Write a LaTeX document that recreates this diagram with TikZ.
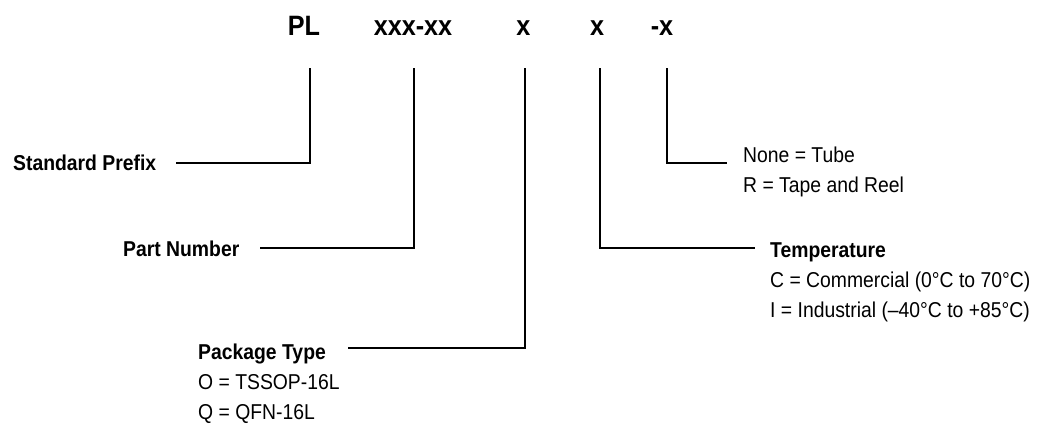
\documentclass[tikz,border=0pt]{standalone}
\usepackage{fontspec}
\setmainfont[FakeStretch=0.9]{Liberation Sans}
\begin{document}
\begin{tikzpicture}[x=1pt,y=-1pt,
  hdr/.style={inner sep=0pt,anchor=base,font=\fontsize{28}{30}\selectfont\bfseries},
  lbl/.style={inner sep=0pt,anchor=base west,font=\fontsize{21.5}{30}\selectfont\bfseries},
  txt/.style={inner sep=0pt,anchor=base west,font=\fontsize{21.5}{30}\selectfont},
  conn/.style={line width=2pt,line join=miter}]
\useasboundingbox (0,0) rectangle (1041,429);
% headers
\node[hdr] (h1) at (304,35) {PL};
\node[hdr] (h2) at (413,35) {xxx-xx};
\node[hdr] (h3) at (523.5,35) {x};
\node[hdr] (h4) at (597,35) {x};
\node[hdr] (h5) at (662,35) {-x};
% labels
\node[lbl] (sp) at (13,170) {Standard Prefix};
\node[lbl] (pn) at (123,256) {Part Number};
\node[lbl] (pt) at (198,359) {Package Type};
\node[txt] (pt1) at (198,389) {O = TSSOP-16L};
\node[txt] (pt2) at (198,419) {Q = QFN-16L};
\node[lbl] (tp) at (770,257) {Temperature};
\node[txt] (tp1) at (770,287) {C = Commercial (0°C to 70°C)};
\node[txt] (tp2) at (770,317) {I = Industrial (–40°C to +85°C)};
\node[txt] (pk1) at (743,162) {None = Tube};
\node[txt] (pk2) at (743,192) {R = Tape and Reel};
% connector end points
\coordinate (c1) at (310,68);
\coordinate (c2) at (414,68);
\coordinate (c3) at (525,68);
\coordinate (c4) at (600,68);
\coordinate (c5) at (667,68);
\coordinate (e1) at (176,163);
\coordinate (e2) at (260,248);
\coordinate (e3) at (348,348);
\coordinate (e4) at (755,248);
\coordinate (e5) at (727,163);
\draw[conn] (c1) |- (e1);
\draw[conn] (c2) |- (e2);
\draw[conn] (c3) |- (e3);
\draw[conn] (c4) |- (e4);
\draw[conn] (c5) |- (e5);
\end{tikzpicture}
\end{document}
